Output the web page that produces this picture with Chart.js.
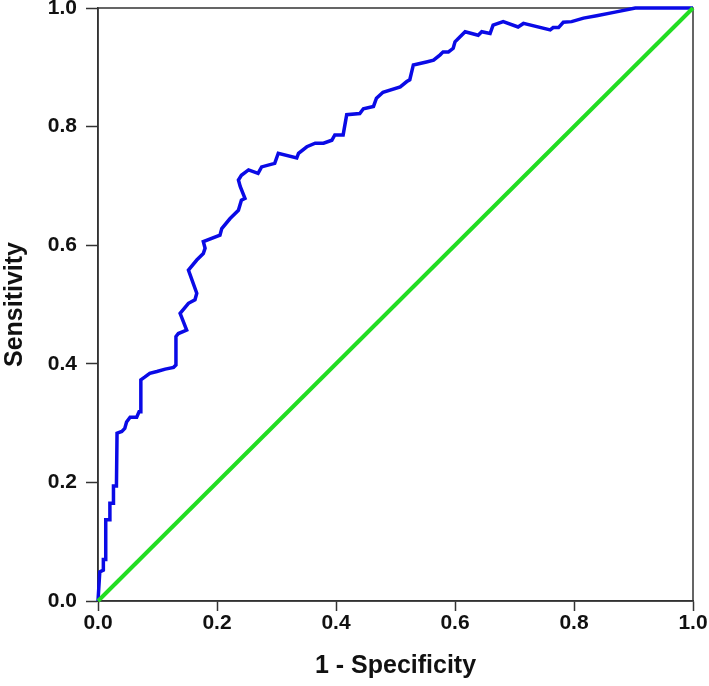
<!DOCTYPE html>
<html>
<head>
<meta charset="utf-8">
<script src="https://cdn.jsdelivr.net/npm/chart.js@4"></script>
<style>
  html, body { margin: 0; padding: 0; background: #fff; }
  canvas { display: block; }
</style>
</head>
<body>
<canvas id="roc" width="709" height="686"></canvas>
<script>
// ROC curve
const rocX = [0, 0.003, 0.009, 0.009, 0.013, 0.013, 0.020, 0.020, 0.026, 0.026, 0.031, 0.032,
    0.040, 0.045, 0.048, 0.054, 0.065, 0.069, 0.072, 0.072, 0.079, 0.087, 0.099, 0.113,
    0.127, 0.131, 0.131, 0.135, 0.149, 0.138, 0.152, 0.163, 0.166, 0.152, 0.166, 0.177,
    0.180, 0.177, 0.205, 0.208, 0.222, 0.236, 0.241, 0.247, 0.239, 0.236, 0.241, 0.253,
    0.269, 0.275, 0.297, 0.303, 0.334, 0.337, 0.351, 0.365, 0.379, 0.393, 0.398, 0.412,
    0.418, 0.440, 0.446, 0.463, 0.468, 0.479, 0.508, 0.519, 0.524, 0.530, 0.552, 0.564,
    0.575, 0.580, 0.589, 0.597, 0.600, 0.606, 0.617, 0.639, 0.645, 0.659, 0.664, 0.681,
    0.706, 0.715, 0.760, 0.765, 0.774, 0.782, 0.796, 0.816, 0.838, 0.869, 0.903, 1.000];
const rocY = [0, 0.049, 0.052, 0.070, 0.070, 0.137, 0.137, 0.165, 0.165, 0.194, 0.194, 0.283,
    0.286, 0.291, 0.302, 0.310, 0.310, 0.319, 0.319, 0.373, 0.378, 0.384, 0.387, 0.391,
    0.394, 0.398, 0.446, 0.451, 0.457, 0.485, 0.502, 0.508, 0.519, 0.558, 0.575, 0.586,
    0.595, 0.606, 0.617, 0.628, 0.645, 0.659, 0.676, 0.679, 0.699, 0.710, 0.718, 0.727,
    0.721, 0.732, 0.738, 0.755, 0.747, 0.755, 0.766, 0.772, 0.772, 0.777, 0.786, 0.786,
    0.820, 0.822, 0.830, 0.834, 0.848, 0.858, 0.867, 0.876, 0.879, 0.904, 0.909, 0.912,
    0.921, 0.926, 0.926, 0.932, 0.943, 0.949, 0.960, 0.954, 0.960, 0.957, 0.971, 0.977,
    0.968, 0.974, 0.963, 0.967, 0.967, 0.976, 0.977, 0.983, 0.987, 0.993, 1.000, 1.000];

// reference (chance) line
const diagX = [0, 1];
const diagY = [0, 1];

const tickValues = [0, 0.2, 0.4, 0.6, 0.8, 1.0];
const xTitle = '1 - Specificity';
const yTitle = 'Sensitivity';

const toPoints = (xs, ys) => xs.map((x, i) => ({ x: x, y: ys[i] }));

const FONT = "'Liberation Sans', Arial, sans-serif";
const AXIS_COLOR = '#333';

// thin frame around the plot area (top and right edges)
const framePlugin = {
    id: 'frame',
    beforeDatasetsDraw(chart) {
        const { ctx, chartArea } = chart;
        ctx.save();
        ctx.strokeStyle = AXIS_COLOR;
        ctx.lineWidth = 1.5;
        ctx.strokeRect(chartArea.left, chartArea.top,
            chartArea.right - chartArea.left, chartArea.bottom - chartArea.top);
        ctx.restore();
    }
};

new Chart(document.getElementById('roc'), {
    type: 'scatter',
    data: {
        datasets: [{
            label: 'Reference',
            data: toPoints(diagX, diagY),
            showLine: true,
            borderColor: '#22dd22',
            borderWidth: 4,
            pointRadius: 0,
            clip: false
        }, {
            label: 'ROC',
            data: toPoints(rocX, rocY),
            showLine: true,
            borderColor: '#0a0ae6',
            borderWidth: 3.5,
            pointRadius: 0,
            tension: 0,
            clip: false
        }]
    },
    options: {
        responsive: false,
        animation: false,
        layout: { padding: { top: 8, right: 16, left: 0, bottom: 0 } },
        plugins: {
            legend: { display: false },
            tooltip: { enabled: false }
        },
        scales: {
            x: {
                type: 'linear',
                min: 0,
                max: 1,
                afterBuildTicks: (scale) => { scale.ticks = tickValues.map(v => ({ value: v })); },
                afterFit: (scale) => {
                    scale.height = 85;
                    scale.paddingLeft = 0;
                    scale.paddingRight = 0;
                },
                ticks: {
                    padding: 0,
                    color: '#111',
                    font: { family: FONT, size: 21, weight: 'bold' },
                    callback: (v) => v.toFixed(1)
                },
                grid: {
                    drawOnChartArea: false,
                    drawTicks: true,
                    tickLength: 10,
                    tickColor: AXIS_COLOR,
                    tickWidth: 1.5
                },
                border: { display: true, color: AXIS_COLOR, width: 1.5 },
                title: {
                    display: true,
                    text: xTitle,
                    color: '#111',
                    font: { family: FONT, size: 25, weight: 'bold' },
                    padding: { top: 0, bottom: 5 }
                }
            },
            y: {
                type: 'linear',
                min: 0,
                max: 1,
                afterBuildTicks: (scale) => { scale.ticks = tickValues.map(v => ({ value: v })); },
                afterFit: (scale) => {
                    scale.width = 98;
                    scale.paddingTop = 0;
                    scale.paddingBottom = 0;
                },
                ticks: {
                    padding: 9,
                    color: '#111',
                    font: { family: FONT, size: 21, weight: 'bold' },
                    callback: (v) => v.toFixed(1)
                },
                grid: {
                    drawOnChartArea: false,
                    drawTicks: true,
                    tickLength: 12,
                    tickColor: AXIS_COLOR,
                    tickWidth: 1.5
                },
                border: { display: true, color: AXIS_COLOR, width: 1.5 },
                title: {
                    display: true,
                    text: yTitle,
                    color: '#111',
                    font: { family: FONT, size: 25, weight: 'bold' },
                    padding: { top: 0, bottom: 0 }
                }
            }
        }
    },
    plugins: [framePlugin]
});
</script>
</body>
</html>
